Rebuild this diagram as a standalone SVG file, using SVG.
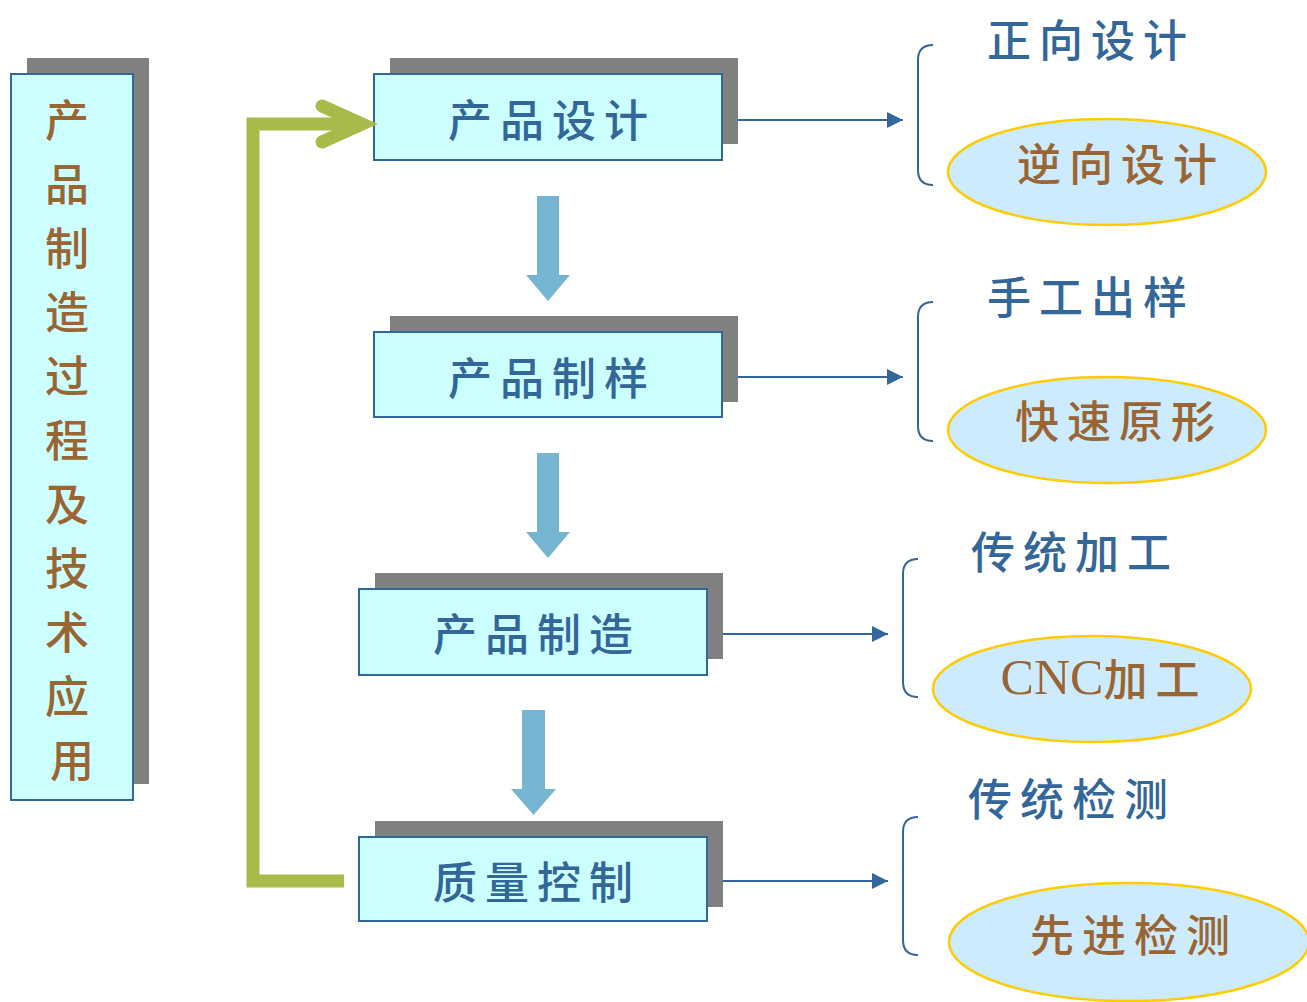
<svg xmlns="http://www.w3.org/2000/svg" width="1307" height="1002" viewBox="0 0 1307 1002">
<defs>
<style>
.shadow{fill:#808080;}
.box{fill:#CCFFFF;stroke:#336699;stroke-width:2;}
.ell{fill:#CCEBFF;stroke:#FFCC00;stroke-width:2.5;}
.ntext{font-family:"Noto Sans CJK SC","Noto Sans CJK TC",sans-serif;font-size:44px;fill:#336699;font-weight:500;letter-spacing:8px;}
.btext{font-family:"Noto Sans CJK SC","Noto Sans CJK TC",sans-serif;font-size:44px;fill:#996633;font-weight:500;letter-spacing:8px;}
.vtext{font-family:"Noto Sans CJK SC","Noto Sans CJK TC",sans-serif;font-size:44px;fill:#996633;font-weight:500;}
.serif{font-family:"Liberation Serif",serif;font-size:50px;letter-spacing:0;}
.conn{stroke:#336699;stroke-width:2;fill:none;}
.brace{stroke:#336699;stroke-width:2;fill:none;}
.down{fill:#75B5D2;}
.green{stroke:#A9B94A;stroke-width:13;fill:none;}
</style>
<marker id="ah" markerWidth="16" markerHeight="16" refX="16" refY="8" orient="auto" markerUnits="userSpaceOnUse">
<path d="M0,0 L16,8 L0,16 Z" fill="#336699"/>
</marker>
</defs>
<rect width="1307" height="1002" fill="#FFFFFF"/>

<g id="process">
<rect class="shadow" x="27" y="58" width="122" height="726"/>
<rect class="box" x="11" y="74" width="122" height="726"/>
<text class="vtext" text-anchor="middle" dominant-baseline="central">
<tspan x="72" y="118">产</tspan>
<tspan x="72" y="182">品</tspan>
<tspan x="72" y="246">制</tspan>
<tspan x="72" y="310">造</tspan>
<tspan x="72" y="374">过</tspan>
<tspan x="72" y="438">程</tspan>
<tspan x="72" y="502">及</tspan>
<tspan x="72" y="566">技</tspan>
<tspan x="72" y="630">术</tspan>
<tspan x="72" y="694">应</tspan>
<tspan x="72" y="758">用</tspan>
</text>
</g>

<g id="design">
<rect class="shadow" x="390" y="58" width="348" height="86"/>
<rect class="box" x="374" y="74" width="348" height="86"/>
<text class="ntext" x="552" y="118" text-anchor="middle" dominant-baseline="central">产品设计</text>
</g>
<g id="sample">
<rect class="shadow" x="390" y="316" width="348" height="86"/>
<rect class="box" x="374" y="332" width="348" height="85"/>
<text class="ntext" x="552" y="376" text-anchor="middle" dominant-baseline="central">产品制样</text>
</g>
<g id="manufacture">
<rect class="shadow" x="375" y="573" width="348" height="86"/>
<rect class="box" x="359" y="589" width="348" height="86"/>
<text class="ntext" x="537" y="632" text-anchor="middle" dominant-baseline="central">产品制造</text>
</g>
<g id="quality">
<rect class="shadow" x="375" y="821" width="348" height="86"/>
<rect class="box" x="359" y="837" width="348" height="84"/>
<text class="ntext" x="537" y="880" text-anchor="middle" dominant-baseline="central">质量控制</text>
</g>

<g id="forward">
<text class="ntext" x="1091" y="38" text-anchor="middle" dominant-baseline="central">正向设计</text>
</g>
<g id="reverse">
<ellipse class="ell" cx="1107" cy="172" rx="159" ry="53"/>
<text class="btext" x="1121" y="162" text-anchor="middle" dominant-baseline="central">逆向设计</text>
</g>
<g id="manual">
<text class="ntext" x="1091" y="295" text-anchor="middle" dominant-baseline="central">手工出样</text>
</g>
<g id="rapid">
<ellipse class="ell" cx="1107" cy="430" rx="159" ry="53"/>
<text class="btext" x="1119" y="419" text-anchor="middle" dominant-baseline="central">快速原形</text>
</g>
<g id="traditional-machining">
<text class="ntext" x="1075" y="550" text-anchor="middle" dominant-baseline="central">传统加工</text>
</g>
<g id="cnc">
<ellipse class="ell" cx="1092" cy="689" rx="159" ry="53"/>
<text class="btext" x="1104" y="677" text-anchor="middle" dominant-baseline="central"><tspan class="serif">CNC</tspan>加工</text>
</g>
<g id="traditional-inspection">
<text class="ntext" x="1072" y="797" text-anchor="middle" dominant-baseline="central">传统检测</text>
</g>
<g id="advanced">
<ellipse class="ell" cx="1129" cy="942" rx="180" ry="59"/>
<text class="btext" x="1134" y="933" text-anchor="middle" dominant-baseline="central">先进检测</text>
</g>

<g id="connectors">
<path class="green" d="M344,881 H253 V124 H362"/>
<path class="green" d="M322,106 L362,124 L322,142" stroke-linecap="round" stroke-linejoin="miter"/>
<path class="down" d="M537,196 H559 V275 H570 L548,301 L526,275 H537 Z"/>
<path class="down" d="M537,453 H559 V532 H570 L548,558 L526,532 H537 Z"/>
<path class="down" d="M522,710 H545 V789 H556 L533.5,815 L511,789 H522 Z"/>
<line class="conn" x1="738" y1="120" x2="903" y2="120" marker-end="url(#ah)"/>
<line class="conn" x1="738" y1="377" x2="903" y2="377" marker-end="url(#ah)"/>
<line class="conn" x1="723" y1="634" x2="888" y2="634" marker-end="url(#ah)"/>
<line class="conn" x1="723" y1="881" x2="888" y2="881" marker-end="url(#ah)"/>
<path class="brace" d="M933,45 Q918,45 918,60 V170 Q918,185 933,185"/>
<path class="brace" d="M933,302 Q918,302 918,317 V426 Q918,441 933,441"/>
<path class="brace" d="M918,559 Q903,559 903,574 V682 Q903,697 918,697"/>
<path class="brace" d="M918,817 Q903,817 903,832 V940 Q903,955 918,955"/>
</g>
</svg>
